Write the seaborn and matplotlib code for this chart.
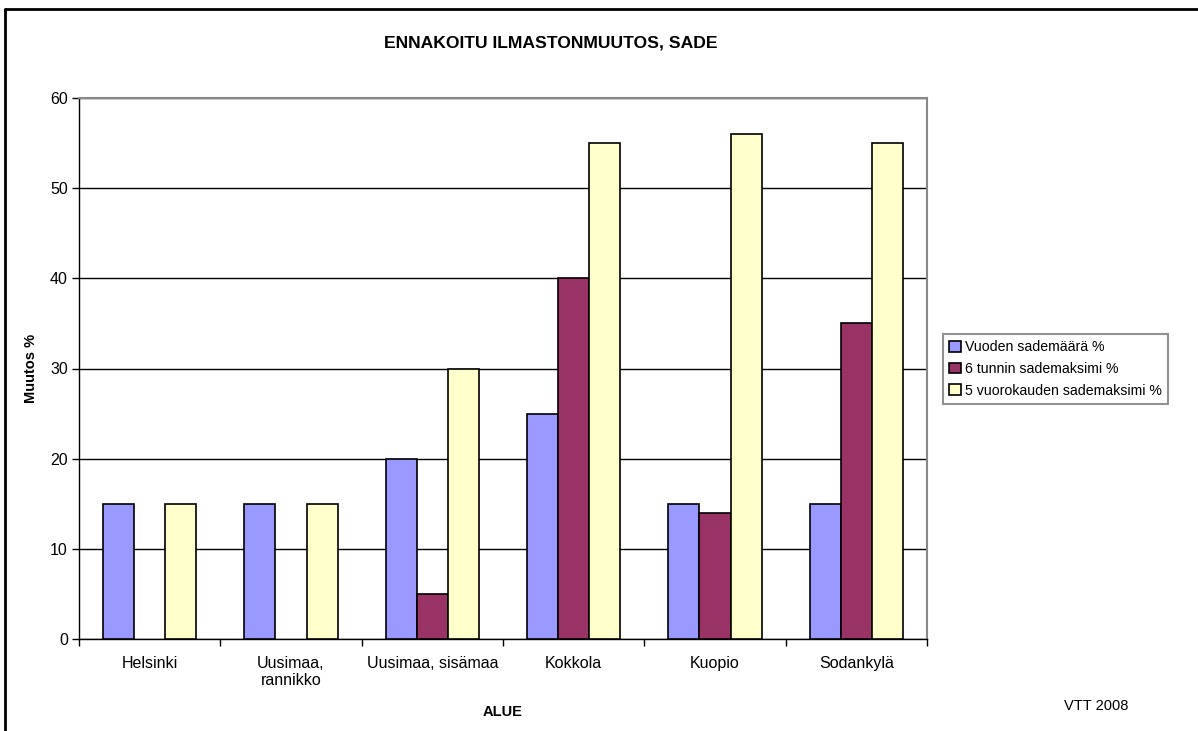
import numpy as np
import pandas as pd
import matplotlib
matplotlib.use("Agg")
import matplotlib.pyplot as plt
from matplotlib.patches import Rectangle
from matplotlib.lines import Line2D
import seaborn as sns

# Regions and projected precipitation changes (%)
regions = ["Helsinki", "Uusimaa,\nrannikko", "Uusimaa, sisämaa", "Kokkola", "Kuopio", "Sodankylä"]
series = ["Vuoden sademäärä %", "6 tunnin sademaksimi %", "5 vuorokauden sademaksimi %"]
annual = [15, 15, 20, 25, 15, 15]
max_6h = [np.nan, np.nan, 5, 40, 14, 35]
max_5d = [15, 15, 30, 55, 56, 55]
colors = ["#9999FF", "#993366", "#FFFFCC"]
y_ticks = [0, 10, 20, 30, 40, 50, 60]

df = pd.DataFrame({
    "Alue": regions * 3,
    "Sarja": [s for s in series for _ in regions],
    "Muutos": annual + max_6h + max_5d,
})

sns.set_style("white")
plt.rcParams["font.family"] = ["Liberation Sans", "DejaVu Sans"]
plt.rcParams["text.color"] = "black"
plt.rcParams["axes.labelcolor"] = "black"
plt.rcParams["xtick.color"] = "black"
plt.rcParams["ytick.color"] = "black"

fig = plt.figure(figsize=(11.98, 7.31), dpi=100)
ax = fig.add_axes([79 / 1198, 1 - 639 / 731, (927 - 79) / 1198, (639 - 98) / 731])

sns.barplot(data=df, x="Alue", y="Muutos", hue="Sarja", order=regions, hue_order=series,
            palette=colors, width=0.66, edgecolor="black", linewidth=1.2,
            saturation=1, errorbar=None, ax=ax, zorder=3)

ax.set_ylim(0, 60)
ax.set_xlim(-0.5, len(regions) - 0.5)
ax.set_yticks(y_ticks)
ax.set_yticklabels([str(v) for v in y_ticks], fontsize=11.5)
ax.tick_params(axis="y", direction="out", length=5, width=1, color="black", pad=3, left=True)

# Category labels centred, tick marks on the category boundaries
ax.set_xticks(range(len(regions)))
ax.set_xticklabels(regions, fontsize=11.5)
ax.tick_params(axis="x", length=0, pad=12)
ax.set_xticks(np.arange(-0.5, len(regions)), minor=True)
ax.tick_params(axis="x", which="minor", direction="out", length=5, width=1, color="black", bottom=True)

ax.yaxis.grid(True, color="black", linewidth=1)
ax.set_axisbelow(True)

ax.spines["left"].set_color("black")
ax.spines["bottom"].set_color("black")
ax.spines["left"].set_linewidth(1)
ax.spines["bottom"].set_linewidth(1)
ax.spines["top"].set_color("#888888")
ax.spines["right"].set_color("#888888")
ax.spines["top"].set_linewidth(1.5)
ax.spines["right"].set_linewidth(1.5)

ax.set_xlabel("ALUE", fontsize=10.5, fontweight="bold", labelpad=12)
ax.set_ylabel("Muutos %", fontsize=10.5, fontweight="bold", labelpad=9)

handles = [Rectangle((0, 0), 1, 1, facecolor=c, edgecolor="black", linewidth=1.2) for c in colors]
leg = ax.legend(handles, series, loc="center left", bbox_to_anchor=(943 / 1198, 1 - 369 / 731),
                bbox_transform=fig.transFigure, fontsize=10.2, frameon=True, fancybox=False,
                handlelength=0.8, handleheight=0.8, handletextpad=0.3, borderpad=0.45,
                labelspacing=0.55, borderaxespad=0)
leg.get_frame().set_edgecolor("#777777")
leg.get_frame().set_linewidth(1.5)

fig.text(551 / 1198, 1 - 43 / 731, "ENNAKOITU ILMASTONMUUTOS, SADE", ha="center", va="center",
         fontsize=12.6, fontweight="bold")
fig.text(1096 / 1198, 1 - 706 / 731, "VTT 2008", ha="center", va="center", fontsize=10.5)

# Chart frame (open at right and bottom edges)
fig.add_artist(Line2D([5 / 1198, 5 / 1198], [0, 1 - 9 / 731], transform=fig.transFigure,
                      color="black", linewidth=2))
fig.add_artist(Line2D([5 / 1198, 1], [1 - 9 / 731, 1 - 9 / 731], transform=fig.transFigure,
                      color="black", linewidth=2))

fig.savefig("out.png", dpi=100)
